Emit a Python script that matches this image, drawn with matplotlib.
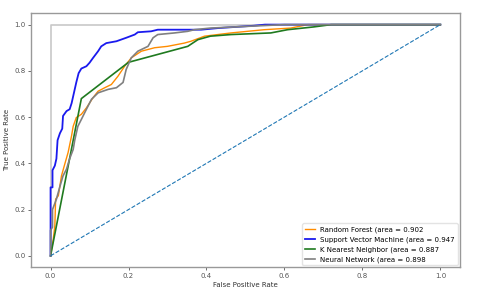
import matplotlib
matplotlib.use("Agg")
import matplotlib.pyplot as plt

# ROC points
rf_fpr = [0.0, 0.007, 0.011, 0.013, 0.02, 0.028, 0.037, 0.045, 0.054, 0.058, 0.066, 0.079, 0.092,
          0.109, 0.122, 0.139, 0.156, 0.173, 0.19, 0.207, 0.233, 0.267, 0.30, 0.343, 0.36, 0.395,
          0.463, 0.548, 0.616, 0.66, 1.0]
rf_tpr = [0.0, 0.073, 0.13, 0.245, 0.26, 0.346, 0.40, 0.447, 0.52, 0.56, 0.598, 0.612, 0.64,
          0.684, 0.712, 0.727, 0.741, 0.777, 0.82, 0.856, 0.885, 0.90, 0.906, 0.92, 0.928, 0.95,
          0.964, 0.978, 0.985, 1.0, 1.0]

svm_fpr = [0.0, 0.0, 0.005, 0.005, 0.011, 0.015, 0.018, 0.024, 0.03, 0.032, 0.041, 0.049, 0.054,
           0.058, 0.066, 0.072, 0.079, 0.092, 0.10, 0.109, 0.122, 0.13, 0.143, 0.169, 0.194, 0.216,
           0.224, 0.258, 0.275, 0.386, 0.43, 0.52, 0.55, 1.0]
svm_tpr = [0.0, 0.296, 0.296, 0.37, 0.39, 0.42, 0.50, 0.53, 0.55, 0.605, 0.626, 0.634, 0.66,
           0.69, 0.75, 0.79, 0.81, 0.82, 0.835, 0.856, 0.885, 0.906, 0.92, 0.928, 0.943, 0.957,
           0.967, 0.971, 0.978, 0.978, 0.985, 0.995, 1.0, 1.0]

knn_fpr = [0.0, 0.079, 0.2, 0.352, 0.378, 0.41, 0.463, 0.565, 0.608, 0.675, 0.72, 1.0]
knn_tpr = [0.0, 0.68, 0.837, 0.906, 0.935, 0.95, 0.957, 0.964, 0.978, 0.99, 1.0, 1.0]

nn_fpr = [0.0, 0.0, 0.005, 0.005, 0.015, 0.024, 0.032, 0.041, 0.049, 0.058, 0.062, 0.07, 0.079,
          0.092, 0.105, 0.122, 0.148, 0.169, 0.186, 0.194, 0.207, 0.224, 0.25, 0.263, 0.275,
          0.318, 0.352, 0.369, 0.41, 0.6, 1.0]
nn_tpr = [0.0, 0.11, 0.124, 0.20, 0.245, 0.30, 0.346, 0.375, 0.42, 0.46, 0.50, 0.56, 0.59,
          0.634, 0.677, 0.705, 0.72, 0.727, 0.75, 0.806, 0.856, 0.885, 0.906, 0.943, 0.957,
          0.964, 0.971, 0.978, 0.985, 1.0, 1.0]

models = ["Random Forest", "Support Vector Machine", "K Nearest Neighbor", "Neural Network"]
aucs = [0.902, 0.947, 0.887, 0.898]

fig, ax = plt.subplots(figsize=(4.78, 2.9), dpi=100)
fig.subplots_adjust(left=0.065, right=0.962, top=0.955, bottom=0.078)

ax.plot([0, 0, 1], [0, 1, 1], color="#c8c8c8", lw=1.2)
ax.plot(rf_fpr, rf_tpr, color="darkorange", lw=1.0, label=f"{models[0]} (area = {aucs[0]}")
ax.plot(svm_fpr, svm_tpr, color="#1a1aee", lw=1.3, label=f"{models[1]} (area = {aucs[1]}")
ax.plot(knn_fpr, knn_tpr, color="#1f7a1f", lw=1.2, label=f"{models[2]} (area = {aucs[2]}")
ax.plot(nn_fpr, nn_tpr, color="gray", lw=1.2, label=f"{models[3]} (area = {aucs[3]}")
ax.plot([0, 1], [0, 1], color="#1f77b4", lw=0.8, linestyle="--")

ax.set_xticks([0.0, 0.2, 0.4, 0.6, 0.8, 1.0])
ax.set_yticks([0.0, 0.2, 0.4, 0.6, 0.8, 1.0])
ax.tick_params(labelsize=5, length=2, width=0.6, colors="#555555", pad=2)
ax.set_xlabel("False Positive Rate", fontsize=5, color="#333333", labelpad=2)
ax.set_ylabel("True Positive Rate", fontsize=5, color="#333333", labelpad=3)
for s in ax.spines.values():
    s.set_color("#999999")
    s.set_linewidth(1.0)

ax.legend(loc="lower right", fontsize=5, frameon=True, edgecolor="#dddddd",
          handlelength=1.4, borderaxespad=0.3)

fig.savefig("out.png")
